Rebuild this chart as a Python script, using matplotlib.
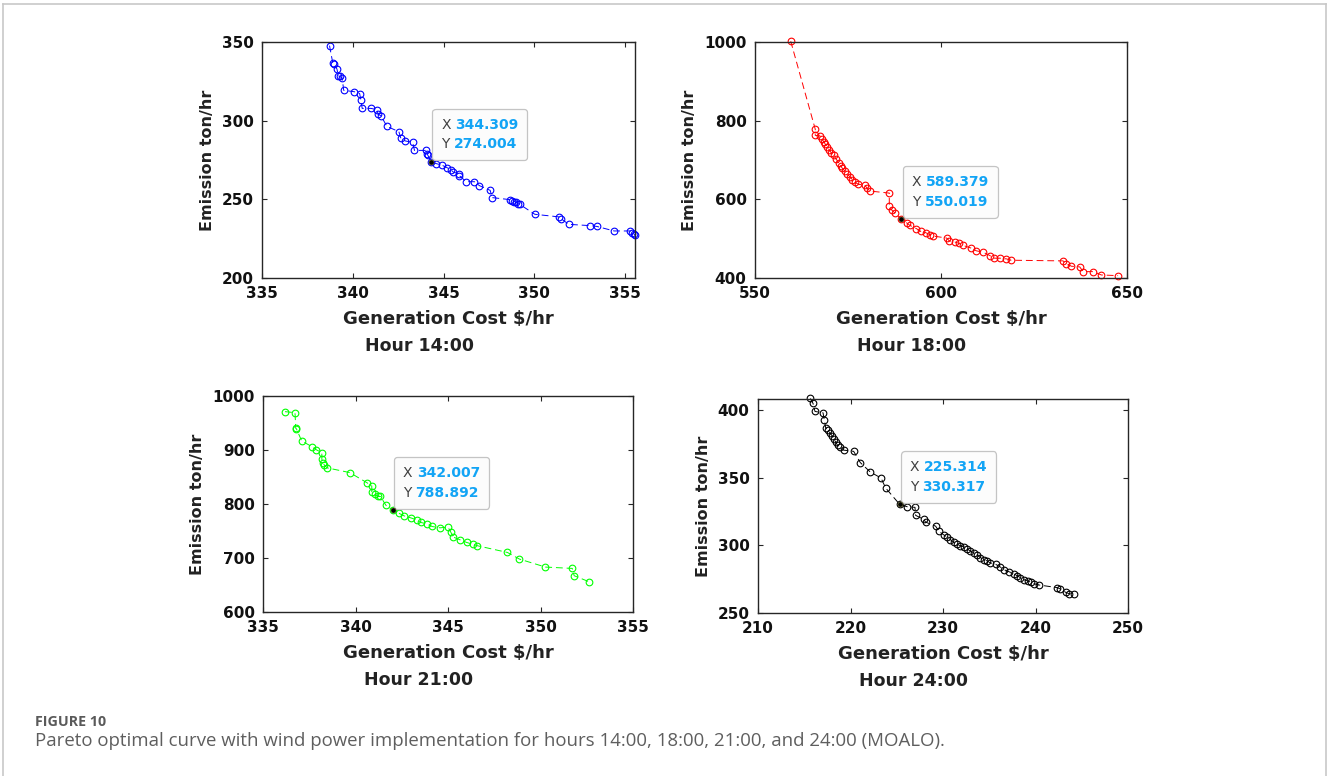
import matplotlib
matplotlib.use("Agg")
import matplotlib.pyplot as plt
from matplotlib.lines import Line2D
from matplotlib.offsetbox import TextArea, HPacker, VPacker, AnnotationBbox

plt.rcParams["font.family"] = ["DejaVu Sans"]

# Hour 14:00
cost14 = [338.72, 338.90, 338.97, 339.13, 339.20, 339.28, 339.42, 339.50, 340.08, 340.38,
          340.45, 340.52, 341.00, 341.33, 341.40, 341.55, 341.88, 342.54, 342.65, 342.90,
          343.30, 343.40, 344.05, 344.08, 344.13, 344.309, 344.60, 344.90, 345.20, 345.40,
          345.55, 345.88, 345.88, 346.25, 346.70, 346.98, 347.57, 347.68, 348.67, 348.80,
          348.90, 349.00, 349.10, 349.20, 350.03, 351.39, 351.50, 351.90, 353.07, 353.44,
          354.40, 355.28, 355.40, 355.50, 355.55]
emis14 = [347.7, 336.6, 336.0, 332.8, 328.6, 328.2, 326.9, 319.3, 318.4, 317.2,
          312.9, 307.8, 307.8, 307.0, 304.0, 303.2, 296.4, 293.0, 288.8, 287.1,
          286.2, 281.1, 281.1, 279.0, 278.2, 274.004, 272.7, 271.8, 270.1, 268.9,
          267.2, 266.3, 265.0, 261.2, 261.2, 258.7, 255.7, 251.1, 249.8, 249.2,
          248.6, 248.0, 247.3, 246.8, 240.5, 238.8, 237.5, 234.1, 233.3, 232.8,
          229.9, 229.9, 228.6, 228.0, 227.3]

# Hour 18:00
cost18 = [559.6, 566.2, 566.2, 567.5, 568.0, 568.6, 568.9, 569.4, 570.0, 570.5,
          571.2, 571.9, 572.5, 573.0, 573.4, 574.1, 574.8, 575.5, 576.2, 576.9,
          577.8, 579.5, 580.0, 580.9, 586.1, 586.1, 586.7, 587.5, 589.379, 590.9,
          591.6, 593.4, 594.5, 595.9, 597.0, 597.9, 601.5, 602.2, 603.8, 604.9,
          605.95, 608.1, 609.5, 611.3, 613.1, 614.2, 615.8, 617.6, 618.8, 632.8,
          633.7, 635.05, 637.3, 638.2, 640.9, 643.1, 647.6]
emis18 = [1002.0, 778.1, 762.7, 761.0, 752.5, 745.6, 739.7, 733.7, 725.2, 718.3,
          711.5, 701.3, 692.7, 686.0, 679.9, 672.3, 665.4, 656.9, 650.1, 643.2,
          638.1, 636.4, 629.6, 621.0, 615.9, 581.8, 573.3, 566.4, 550.019, 539.1,
          534.0, 525.5, 518.6, 515.2, 510.1, 506.7, 501.6, 494.7, 491.3, 487.9,
          482.8, 476.0, 469.1, 465.7, 457.2, 450.4, 450.4, 448.6, 445.2, 443.5,
          436.7, 429.9, 428.2, 416.2, 416.2, 407.7, 406.0]

# Hour 21:00
cost21 = [336.19, 336.73, 336.77, 336.81, 337.09, 337.64, 337.89, 338.18, 338.18, 338.25,
          338.32, 338.47, 339.69, 340.60, 340.88, 340.88, 341.03, 341.21, 341.35, 341.64,
          342.007, 342.33, 342.62, 342.98, 343.30, 343.52, 343.88, 344.13, 344.57, 345.00,
          345.14, 345.29, 345.65, 346.01, 346.37, 346.59, 348.21, 348.86, 350.27, 351.72,
          351.82, 352.62]
emis21 = [971.0, 969.2, 940.2, 939.0, 916.8, 906.3, 900.2, 895.2, 882.9, 876.7,
          871.8, 866.9, 858.2, 839.8, 833.6, 821.3, 817.6, 813.9, 813.9, 797.8,
          788.892, 783.1, 778.1, 774.4, 770.7, 765.8, 763.3, 758.4, 755.9, 757.2,
          748.5, 738.7, 733.7, 728.8, 725.1, 722.7, 710.3, 698.0, 683.2, 680.7,
          667.2, 656.1]

# Hour 24:00
cost24 = [215.66, 215.95, 216.16, 217.03, 217.17, 217.32, 217.60, 217.82, 218.04, 218.25,
          218.40, 218.61, 218.90, 219.26, 220.34, 221.06, 222.14, 223.30, 223.80, 225.314,
          226.11, 226.97, 227.04, 227.91, 228.12, 229.20, 229.57, 230.07, 230.43, 230.79,
          231.15, 231.51, 231.87, 232.23, 232.59, 232.95, 233.32, 233.68, 234.04, 234.40,
          234.76, 235.12, 235.69, 236.20, 236.56, 237.10, 237.64, 238.00, 238.36, 238.72,
          239.15, 239.51, 239.80, 240.38, 242.32, 242.68, 243.26, 243.62, 244.20]
emis24 = [408.6, 404.9, 399.0, 398.0, 392.6, 386.7, 385.2, 382.7, 380.8, 378.3,
          376.3, 373.9, 372.9, 370.4, 369.5, 361.2, 354.2, 349.8, 342.4, 330.317,
          328.6, 328.1, 322.2, 319.2, 317.2, 314.2, 310.3, 307.8, 306.3, 304.3,
          302.3, 300.8, 299.8, 298.9, 297.4, 295.9, 294.4, 292.9, 291.0, 289.5,
          288.5, 287.0, 286.0, 284.0, 282.1, 280.6, 279.1, 277.6, 276.2, 274.7,
          273.7, 272.7, 271.7, 270.7, 268.8, 267.8, 265.3, 264.3, 264.1]

# datatip points
tips = [(344.309, 274.004), (589.379, 550.019), (342.007, 788.892), (225.314, 330.317)]
tip_labels = [("344.309", "274.004"), ("589.379", "550.019"),
              ("342.007", "788.892"), ("225.314", "330.317")]
hours = ["Hour 14:00", "Hour 18:00", "Hour 21:00", "Hour 24:00"]

W, H = 1327, 776
fig = plt.figure(figsize=(W / 100, H / 100), dpi=100)


def px_axes(l, t, r, b):
    return fig.add_axes([l / W, 1 - b / H, (r - l) / W, (b - t) / H])


def dibuja_panel(ax, x, y, color, tip, lab, hour, xlim, ylim, xt, yt):
    ax.plot(x, y, color=color, lw=0.7, ls=(0, (7, 4)), marker="o", ms=4.8,
            mfc="none", mec=color, mew=0.8, clip_on=False)
    ax.plot([tip[0]], [tip[1]], "o", ms=3.6, mfc="black", mec="#505020", mew=0.5, zorder=5)
    ax.set_xlim(xlim)
    ax.set_ylim(ylim)
    ax.set_xticks(xt)
    ax.set_yticks(yt)
    for s in ax.spines.values():
        s.set_color("#262626")
        s.set_linewidth(1.0)
    ax.tick_params(direction="in", length=3.5, width=0.8, top=True, right=True,
                   colors="#262626", labelcolor="#111111", labelsize=11)
    ax.tick_params(axis="x", pad=6)
    ax.tick_params(axis="y", pad=6)
    for t in ax.get_xticklabels() + ax.get_yticklabels():
        t.set_fontweight("bold")
    ax.set_xlabel("Generation Cost $/hr", fontsize=13, fontweight="bold",
                  color="#222222", labelpad=6)
    ax.set_ylabel("Emission ton/hr", fontsize=11.5, fontweight="bold",
                  color="#222222", labelpad=5)
    ax.annotate(hour, xy=(0.5, 0), xycoords="axes fraction", xytext=(-21, -49),
                textcoords="offset points", ha="center", va="center",
                fontsize=12.5, fontweight="bold", color="#222222")

    # caja del datatip
    tp = dict(fontsize=10, color="#404040")
    vp = dict(fontsize=10, color="#12a4f5", fontweight="bold")
    fila1 = HPacker(children=[TextArea("X", textprops=tp), TextArea(lab[0], textprops=vp)],
                    sep=3, pad=0)
    fila2 = HPacker(children=[TextArea("Y", textprops=tp), TextArea(lab[1], textprops=vp)],
                    sep=3, pad=0)
    caja = VPacker(children=[fila1, fila2], sep=4, pad=0)
    ab = AnnotationBbox(caja, tip, xybox=(7.5, 7.5), boxcoords="offset points",
                        box_alignment=(0, 0), frameon=True,
                        bboxprops=dict(boxstyle="round,pad=0.65,rounding_size=0.25",
                                       edgecolor="#c4c4c4", facecolor="#fcfcfc", lw=0.9))
    ax.add_artist(ab)


ax1 = px_axes(262, 42, 635, 278)
dibuja_panel(ax1, cost14, emis14, "blue", tips[0], tip_labels[0], hours[0],
             (335, 355.55), (200, 350), [335, 340, 345, 350, 355], [200, 250, 300, 350])

ax2 = px_axes(755, 42, 1127, 278)
dibuja_panel(ax2, cost18, emis18, "red", tips[1], tip_labels[1], hours[1],
             (550, 650), (400, 1000), [550, 600, 650], [400, 600, 800, 1000])

ax3 = px_axes(263, 396, 633, 612)
dibuja_panel(ax3, cost21, emis21, "#00ff00", tips[2], tip_labels[2], hours[2],
             (335, 355), (600, 1000), [335, 340, 345, 350, 355], [600, 700, 800, 900, 1000])

ax4 = px_axes(758, 399, 1128, 613)
dibuja_panel(ax4, cost24, emis24, "black", tips[3], tip_labels[3], hours[3],
             (210, 250), (250, 408.2), [210, 220, 230, 240, 250], [250, 300, 350, 400])

# marco gris de la figura
gris = "#c8c8c8"
fig.add_artist(Line2D([3.5 / W, 3.5 / W], [0, 1 - 3.5 / H], color=gris, lw=1.2))
fig.add_artist(Line2D([3.5 / W, 1325.5 / W], [1 - 3.5 / H, 1 - 3.5 / H], color=gris, lw=1.2))
fig.add_artist(Line2D([1325.5 / W, 1325.5 / W], [0, 1 - 3.5 / H], color=gris, lw=1.2))

fig.text(35 / W, 1 - 722 / H, "FIGURE 10", fontsize=10.3, fontweight="bold",
         color="#5a5a5a", family=["Open Sans", "DejaVu Sans"], va="center")
fig.text(35 / W, 1 - 741 / H,
         "Pareto optimal curve with wind power implementation for hours 14:00, 18:00, "
         "21:00, and 24:00 (MOALO).",
         fontsize=13.4, color="#5e5e5e", family=["Open Sans", "DejaVu Sans"], va="center")

fig.savefig("out.png", dpi=100)
